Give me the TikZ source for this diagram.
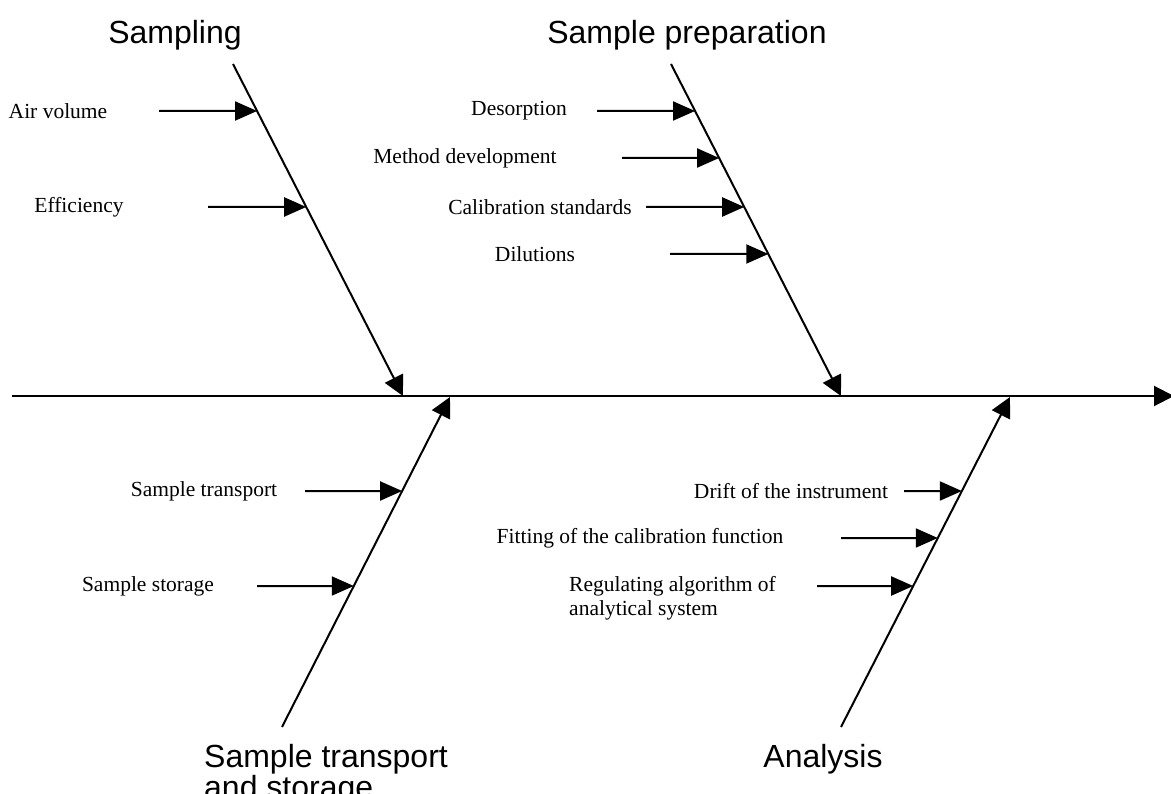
\documentclass[tikz,border=0pt]{standalone}
\usepackage{fontspec}
\setmainfont{Liberation Serif}
\newfontfamily\titlefont{Liberation Sans}
\usetikzlibrary{arrows.meta,calc}
\begin{document}
\begin{tikzpicture}[x=1pt,y=-1pt,
  bone/.style={line width=2pt,-{Triangle[length=20pt,width=20pt]}},
  twig/.style={line width=2pt,-{Triangle[length=22pt,width=19pt]}},
  lbl/.style={font=\fontsize{21.5}{24}\selectfont,inner sep=0pt},
  ttl/.style={font=\titlefont\fontsize{32}{29}\selectfont,inner sep=0pt}]
\useasboundingbox (0,0) rectangle (1171,794);
% spine
\coordinate (sp0) at (12,396);
\coordinate (sp1) at (1174,396);
\draw[bone] (sp0) -- (sp1);
% bones
\coordinate (b1t) at (233,64);   \coordinate (b1h) at (403,396);
\coordinate (b2t) at (671,64);   \coordinate (b2h) at (841,396);
\coordinate (b3t) at (282,727);  \coordinate (b3h) at (450,397);
\coordinate (b4t) at (841,727);  \coordinate (b4h) at (1010,397);
\draw[bone] (b1t) -- (b1h);
\draw[bone] (b2t) -- (b2h);
\draw[bone] (b3t) -- (b3h);
\draw[bone] (b4t) -- (b4h);
% titles
\node[ttl] (t1) at (175,35) {Sampling};
\node[ttl] (t2) at (687,35) {Sample preparation};
\node[ttl,anchor=north west,align=left] (t3) at (204,744) {Sample transport\\and storage};
\node[ttl] (t4) at (823,759) {Analysis};
% sampling causes
\coordinate (p11) at ($(b1t)!{47/332}!(b1h)$);
\coordinate (p12) at ($(b1t)!{143/332}!(b1h)$);
\node[lbl] (l11) at (58,111) {Air volume};
\node[lbl] (l12) at (79,207) {Efficiency};
\coordinate (s11) at (159,111);
\coordinate (s12) at (208,207);
\draw[twig] (s11) -- (p11);
\draw[twig] (s12) -- (p12);
% sample preparation causes
\coordinate (p21) at ($(b2t)!{47/332}!(b2h)$);
\coordinate (p22) at ($(b2t)!{94/332}!(b2h)$);
\coordinate (p23) at ($(b2t)!{143/332}!(b2h)$);
\coordinate (p24) at ($(b2t)!{190/332}!(b2h)$);
\node[lbl] (l21) at (519,111) {Desorption};
\node[lbl] (l22) at (465,158) {Method development};
\node[lbl] (l23) at (540,207) {Calibration standards};
\node[lbl] (l24) at (535,254) {Dilutions};
\coordinate (s21) at (597,111);
\coordinate (s22) at (622,158);
\coordinate (s23) at (646,207);
\coordinate (s24) at (670,254);
\draw[twig] (s21) -- (p21);
\draw[twig] (s22) -- (p22);
\draw[twig] (s23) -- (p23);
\draw[twig] (s24) -- (p24);
% transport causes
\coordinate (p31) at ($(b3t)!{236/330}!(b3h)$);
\coordinate (p32) at ($(b3t)!{141/330}!(b3h)$);
\node[lbl] (l31) at (204,491) {Sample transport};
\node[lbl] (l32) at (148,586) {Sample storage};
\coordinate (s31) at (305,491);
\coordinate (s32) at (257,586);
\draw[twig] (s31) -- (p31);
\draw[twig] (s32) -- (p32);
% analysis causes
\coordinate (p41) at ($(b4t)!{236/330}!(b4h)$);
\coordinate (p42) at ($(b4t)!{189/330}!(b4h)$);
\coordinate (p43) at ($(b4t)!{141/330}!(b4h)$);
\node[lbl] (l41) at (791,491) {Drift of the instrument};
\node[lbl] (l42) at (640,538) {Fitting of the calibration function};
\node[lbl,anchor=north west,align=left] (l43) at (569,576) {Regulating algorithm of\\analytical system};
\coordinate (s41) at (904,491);
\coordinate (s42) at (841,538);
\coordinate (s43) at (817,586);
\draw[twig] (s41) -- (p41);
\draw[twig] (s42) -- (p42);
\draw[twig] (s43) -- (p43);
\end{tikzpicture}
\end{document}
